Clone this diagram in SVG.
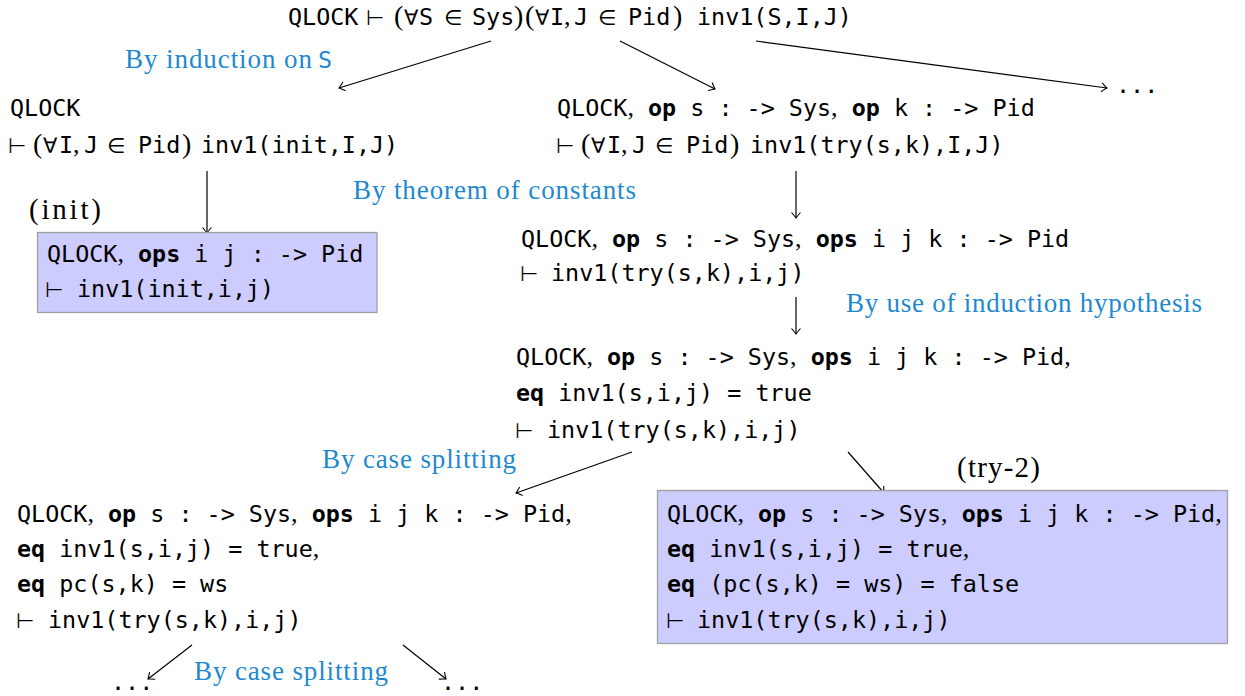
<svg xmlns="http://www.w3.org/2000/svg" width="1245" height="696" viewBox="0 0 1245 696">
<style>
.m{font-family:"DejaVu Sans Mono",monospace;font-size:23.4px;fill:#000}
.k{font-weight:bold}
.c{font-family:"Liberation Serif",serif;font-size:26px}
.y{font-family:"DejaVu Sans",sans-serif;font-size:21px}
.p{font-family:"Liberation Serif",serif;font-size:28px}
.l{font-family:"Liberation Serif",serif;font-size:27px;fill:#1e89cf}
.lb{font-family:"Liberation Serif",serif;font-size:29px;fill:#000}
.lm{font-family:"DejaVu Sans Mono",monospace;font-size:23.4px;fill:#1e89cf}
.box{fill:#ccccff;stroke:#a0a0a0;stroke-width:1.3}
.e{stroke:#000;stroke-width:1.2;fill:none;marker-end:url(#ar)}
</style>
<defs>
<marker id="ar" viewBox="-8 -6 10 12" markerWidth="10" markerHeight="12" refX="0" refY="0" orient="auto" markerUnits="userSpaceOnUse">
<path d="M-5.5,-4.5 Q-1.5,-1 0,0 Q-1.5,1 -5.5,4.5" fill="none" stroke="#000" stroke-width="1.1"/>
</marker>
</defs>
<g id="connectors">
<line class="e" x1="491" y1="41" x2="339" y2="88"/>
<line class="e" x1="620" y1="41" x2="715" y2="89"/>
<line class="e" x1="756" y1="41" x2="1107" y2="88"/>
<line class="e" x1="207" y1="171" x2="207" y2="233"/>
<line class="e" x1="796" y1="171" x2="796" y2="218"/>
<line class="e" x1="796" y1="297" x2="796" y2="334"/>
<line class="e" x1="632" y1="452" x2="516" y2="493"/>
<line class="e" x1="848" y1="452" x2="884" y2="493"/>
<line class="e" x1="192" y1="645" x2="148" y2="679"/>
<line class="e" x1="403" y1="645" x2="446" y2="679"/>
</g>
<g id="labels">
<text class="l" x="125" y="68" textLength="187" lengthAdjust="spacing">By induction on</text>
<text class="lm" x="318" y="68">S</text>
<text class="l" x="353" y="199" textLength="283" lengthAdjust="spacing">By theorem of constants</text>
<text class="l" x="846" y="312" textLength="356" lengthAdjust="spacing">By use of induction hypothesis</text>
<text class="l" x="322" y="468" textLength="194" lengthAdjust="spacing">By case splitting</text>
<text class="l" x="194" y="680" textLength="194" lengthAdjust="spacing">By case splitting</text>
<text class="lb" x="29" y="219" textLength="72" lengthAdjust="spacing">(init)</text>
<text class="lb" x="957" y="477" textLength="83" lengthAdjust="spacing">(try-2)</text>
</g>
<g id="n-root">
<text class="m" y="25"><tspan x="288">QLOCK</tspan><tspan class="y" x="366">⊢</tspan><tspan class="p" x="394">(</tspan><tspan class="y" x="404">∀</tspan><tspan x="419">S</tspan><tspan class="y" x="444">∈</tspan><tspan x="472">Sys</tspan><tspan class="p" x="514">)</tspan><tspan class="p" x="525">(</tspan><tspan class="y" x="535">∀</tspan><tspan x="550">I</tspan><tspan class="c" x="564">,</tspan><tspan x="574">J</tspan><tspan class="y" x="598">∈</tspan><tspan x="628">Pid</tspan><tspan class="p" x="673">)</tspan><tspan x="697">inv1(S,I,J)</tspan></text>
</g>
<g id="n-init-goal">
<text class="m" x="10" y="116">QLOCK</text>
<text class="m" y="153"><tspan class="y" x="8">⊢</tspan><tspan class="p" x="33">(</tspan><tspan class="y" x="43">∀</tspan><tspan x="59">I</tspan><tspan class="c" x="73">,</tspan><tspan x="84">J</tspan><tspan class="y" x="107">∈</tspan><tspan x="138">Pid</tspan><tspan class="p" x="182">)</tspan><tspan x="201">inv1(init,I,J)</tspan></text>
</g>
<g id="n-try-goal">
<text class="m" x="557" y="116">QLOCK<tspan class="c">,</tspan> <tspan class="k">op</tspan> s : -&gt; Sys<tspan class="c">,</tspan> <tspan class="k">op</tspan> k : -&gt; Pid</text>
<text class="m" y="153"><tspan class="y" x="556">⊢</tspan><tspan class="p" x="581">(</tspan><tspan class="y" x="591">∀</tspan><tspan x="607">I</tspan><tspan class="c" x="621">,</tspan><tspan x="632">J</tspan><tspan class="y" x="655">∈</tspan><tspan x="686">Pid</tspan><tspan class="p" x="730">)</tspan><tspan x="750">inv1(try(s,k),I,J)</tspan></text>
</g>
<g id="n-dots-top">
<text class="m" x="1116" y="93">...</text>
</g>
<g id="n-init">
<rect class="box" x="37.5" y="232.5" width="339.5" height="80"/>
<text class="m" x="47" y="262">QLOCK<tspan class="c">,</tspan> <tspan class="k">ops</tspan> i j : -&gt; Pid</text>
<text class="m" y="297"><tspan class="y" x="45">⊢</tspan><tspan x="77">inv1(init,i,j)</tspan></text>
</g>
<g id="n-const">
<text class="m" x="521" y="247">QLOCK<tspan class="c">,</tspan> <tspan class="k">op</tspan> s : -&gt; Sys<tspan class="c">,</tspan> <tspan class="k">ops</tspan> i j k : -&gt; Pid</text>
<text class="m" y="281"><tspan class="y" x="520">⊢</tspan><tspan x="551">inv1(try(s,k),i,j)</tspan></text>
</g>
<g id="n-ih">
<text class="m" x="516" y="365">QLOCK<tspan class="c">,</tspan> <tspan class="k">op</tspan> s : -&gt; Sys<tspan class="c">,</tspan> <tspan class="k">ops</tspan> i j k : -&gt; Pid<tspan class="c">,</tspan></text>
<text class="m" x="516" y="401"><tspan class="k">eq</tspan> inv1(s,i,j) = true</text>
<text class="m" y="438"><tspan class="y" x="515">⊢</tspan><tspan x="547">inv1(try(s,k),i,j)</tspan></text>
</g>
<g id="n-case1">
<text class="m" x="17" y="522">QLOCK<tspan class="c">,</tspan> <tspan class="k">op</tspan> s : -&gt; Sys<tspan class="c">,</tspan> <tspan class="k">ops</tspan> i j k : -&gt; Pid<tspan class="c">,</tspan></text>
<text class="m" x="17" y="557"><tspan class="k">eq</tspan> inv1(s,i,j) = true<tspan class="c">,</tspan></text>
<text class="m" x="17" y="592"><tspan class="k">eq</tspan> pc(s,k) = ws</text>
<text class="m" y="628"><tspan class="y" x="16">⊢</tspan><tspan x="48">inv1(try(s,k),i,j)</tspan></text>
</g>
<g id="n-try2">
<rect class="box" x="657.5" y="490.5" width="570" height="153"/>
<text class="m" x="667" y="522">QLOCK<tspan class="c">,</tspan> <tspan class="k">op</tspan> s : -&gt; Sys<tspan class="c">,</tspan> <tspan class="k">ops</tspan> i j k : -&gt; Pid<tspan class="c">,</tspan></text>
<text class="m" x="667" y="557"><tspan class="k">eq</tspan> inv1(s,i,j) = true<tspan class="c">,</tspan></text>
<text class="m" x="667" y="592"><tspan class="k">eq</tspan> (pc(s,k) = ws) = false</text>
<text class="m" y="628"><tspan class="y" x="666">⊢</tspan><tspan x="697">inv1(try(s,k),i,j)</tspan></text>
</g>
<g id="n-dots-left">
<text class="m" x="111" y="690">...</text>
</g>
<g id="n-dots-right">
<text class="m" x="441" y="690">...</text>
</g>
</svg>
